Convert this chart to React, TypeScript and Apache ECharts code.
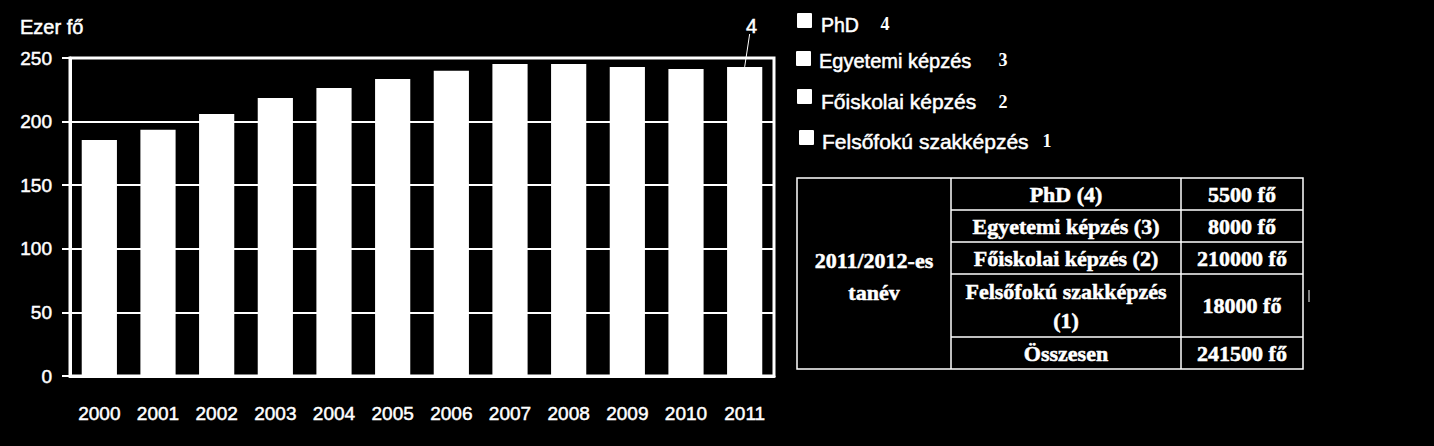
import React, { useEffect, useRef } from "react";
import * as echarts from "echarts";

const years = ["2000", "2001", "2002", "2003", "2004", "2005", "2006", "2007", "2008", "2009", "2010", "2011"];
const totals = [185.6, 193.5, 206, 218.6, 226.4, 233.5, 240, 245.3, 245.3, 243, 241.3, 243];
const yTicks = { min: 0, max: 250, interval: 50 };
const unitLabel = "Ezer fő";
const annotation = "4";

const legendNames = ["PhD", "Egyetemi képzés", "Főiskolai képzés", "Felsőfokú szakképzés"];
const legendNums = ["4", "3", "2", "1"];

const yearLabel = ["2011/2012-es", "tanév"];
const tableNames = ["PhD (4)", "Egyetemi képzés (3)", "Főiskolai képzés (2)", "Felsőfokú szakképzés\n(1)", "Összesen"];
const tableValues = ["5500 fő", "8000 fő", "210000 fő", "18000 fő", "241500 fő"];

const SANS = "'Liberation Sans', Arial, sans-serif";
const SERIF = "'Liberation Serif', 'Times New Roman', serif";
const thickAxis = { textBorderColor: "#fff", textBorderWidth: 0.5 };
const thickText = { stroke: "#fff", lineWidth: 0.5 };

export default function App() {
  const ref = useRef<HTMLDivElement>(null);

  useEffect(() => {
    document.body.style.margin = "0";
    document.body.style.background = "#000";
    const chart = echarts.init(ref.current!, null, { renderer: "svg" });

    const option: any = {
      animation: false,
      backgroundColor: "#000",
      grid: {
        left: 70,
        top: 58,
        right: 660,
        bottom: 70,
        show: true,
        borderColor: "#fff",
        borderWidth: 3,
      },
      xAxis: {
        type: "category",
        data: years,
        axisLine: { show: true, lineStyle: { color: "#fff", width: 3 } },
        axisTick: { show: false },
        axisLabel: { color: "#fff", fontSize: 19, fontFamily: SANS, margin: 28, ...thickAxis },
        splitLine: { show: false },
      },
      yAxis: {
        type: "value",
        min: yTicks.min,
        max: yTicks.max,
        interval: yTicks.interval,
        axisLine: { show: true, lineStyle: { color: "#fff", width: 3 } },
        axisTick: { show: true, length: 8, lineStyle: { color: "#fff", width: 2 } },
        axisLabel: { color: "#fff", fontSize: 19, fontFamily: SANS, margin: 18, ...thickAxis },
        splitLine: { show: true, lineStyle: { color: "#fff", width: 2 } },
      },
      series: [
        {
          type: "bar",
          name: "Összesen",
          data: totals,
          barCategoryGap: "40%",
          itemStyle: { color: "#fff" },
        },
      ],
    };
    chart.setOption(option);

    const lastIdx = years.length - 1;
    const top = chart.convertToPixel({ seriesIndex: 0 }, [lastIdx, totals[lastIdx]]) as number[];
    const bx = top[0];
    const by = top[1];

    const graphics: any[] = [];
    graphics.push({
      type: "text",
      style: { text: unitLabel, x: 20, y: 27, fill: "#fff", fontSize: 20, fontFamily: SANS, verticalAlign: "middle", ...thickText },
    });
    graphics.push({
      type: "line",
      shape: { x1: bx, y1: by, x2: bx + 5, y2: 34 },
      style: { stroke: "#fff", lineWidth: 1 },
    });
    graphics.push({
      type: "text",
      style: { text: annotation, x: bx + 7, y: 26, fill: "#fff", fontSize: 20, fontFamily: SANS, align: "center", verticalAlign: "middle", ...thickText },
    });

    const legSquares = [
      { x: 797, y: 13 },
      { x: 796, y: 51 },
      { x: 797, y: 89 },
      { x: 799, y: 130 },
    ];
    const legText = [
      { x: 821, y: 25, size: 19.5 },
      { x: 819, y: 61, size: 20 },
      { x: 821, y: 101, size: 21 },
      { x: 822, y: 141, size: 21 },
    ];
    const legNum = [
      { x: 885, y: 24 },
      { x: 1003, y: 60 },
      { x: 1003, y: 102 },
      { x: 1047, y: 141 },
    ];
    legendNames.forEach((name, i) => {
      graphics.push({
        type: "rect",
        shape: { x: legSquares[i].x, y: legSquares[i].y, width: 15, height: 15, r: 1 },
        style: { fill: "#fff" },
      });
      graphics.push({
        type: "text",
        style: { text: name, x: legText[i].x, y: legText[i].y, fill: "#fff", fontSize: legText[i].size, fontFamily: SANS, verticalAlign: "middle", ...thickText },
      });
      graphics.push({
        type: "text",
        style: { text: legendNums[i], x: legNum[i].x, y: legNum[i].y, fill: "#fff", fontSize: 18, fontWeight: "bold", fontFamily: SERIF, align: "center", verticalAlign: "middle" },
      });
    });

    const tL = 797, tR = 1303, tT = 178, tB = 369;
    const c1 = 951, c2 = 1181;
    const rowsY = [178, 210, 242, 274, 337, 369];
    const lineStyle = { stroke: "#fff", lineWidth: 1.5 };
    graphics.push({ type: "rect", shape: { x: tL, y: tT, width: tR - tL, height: tB - tT }, style: { ...lineStyle, fill: "none" } });
    graphics.push({ type: "line", shape: { x1: c1, y1: tT, x2: c1, y2: tB }, style: lineStyle });
    graphics.push({ type: "line", shape: { x1: c2, y1: tT, x2: c2, y2: tB }, style: lineStyle });
    for (let i = 1; i < rowsY.length - 1; i++) {
      graphics.push({ type: "line", shape: { x1: c1, y1: rowsY[i], x2: tR, y2: rowsY[i] }, style: lineStyle });
    }
    const tFont = { fill: "#fff", fontSize: 22, fontWeight: "bold", fontFamily: SERIF, align: "center", verticalAlign: "middle", stroke: "#fff", lineWidth: 0.5 };
    graphics.push({ type: "text", style: { ...tFont, text: yearLabel[0], x: (tL + c1) / 2, y: 260 } });
    graphics.push({ type: "text", style: { ...tFont, text: yearLabel[1], x: (tL + c1) / 2, y: 292 } });
    tableNames.forEach((name, i) => {
      const cy = (rowsY[i] + rowsY[i + 1]) / 2;
      graphics.push({ type: "text", style: { ...tFont, text: name, x: (c1 + c2) / 2, y: cy, lineHeight: 29 } });
      graphics.push({ type: "text", style: { ...tFont, text: tableValues[i], x: (c2 + tR) / 2, y: cy } });
    });
    graphics.push({ type: "line", shape: { x1: 1309, y1: 290, x2: 1309, y2: 302 }, style: { stroke: "#fff", lineWidth: 1 } });

    chart.setOption({ graphic: graphics });

    return () => chart.dispose();
  }, []);

  return (
    <div
      ref={ref}
      style={{ position: "absolute", left: 0, top: 0, width: 1434, height: 446, background: "#000" }}
    />
  );
}
